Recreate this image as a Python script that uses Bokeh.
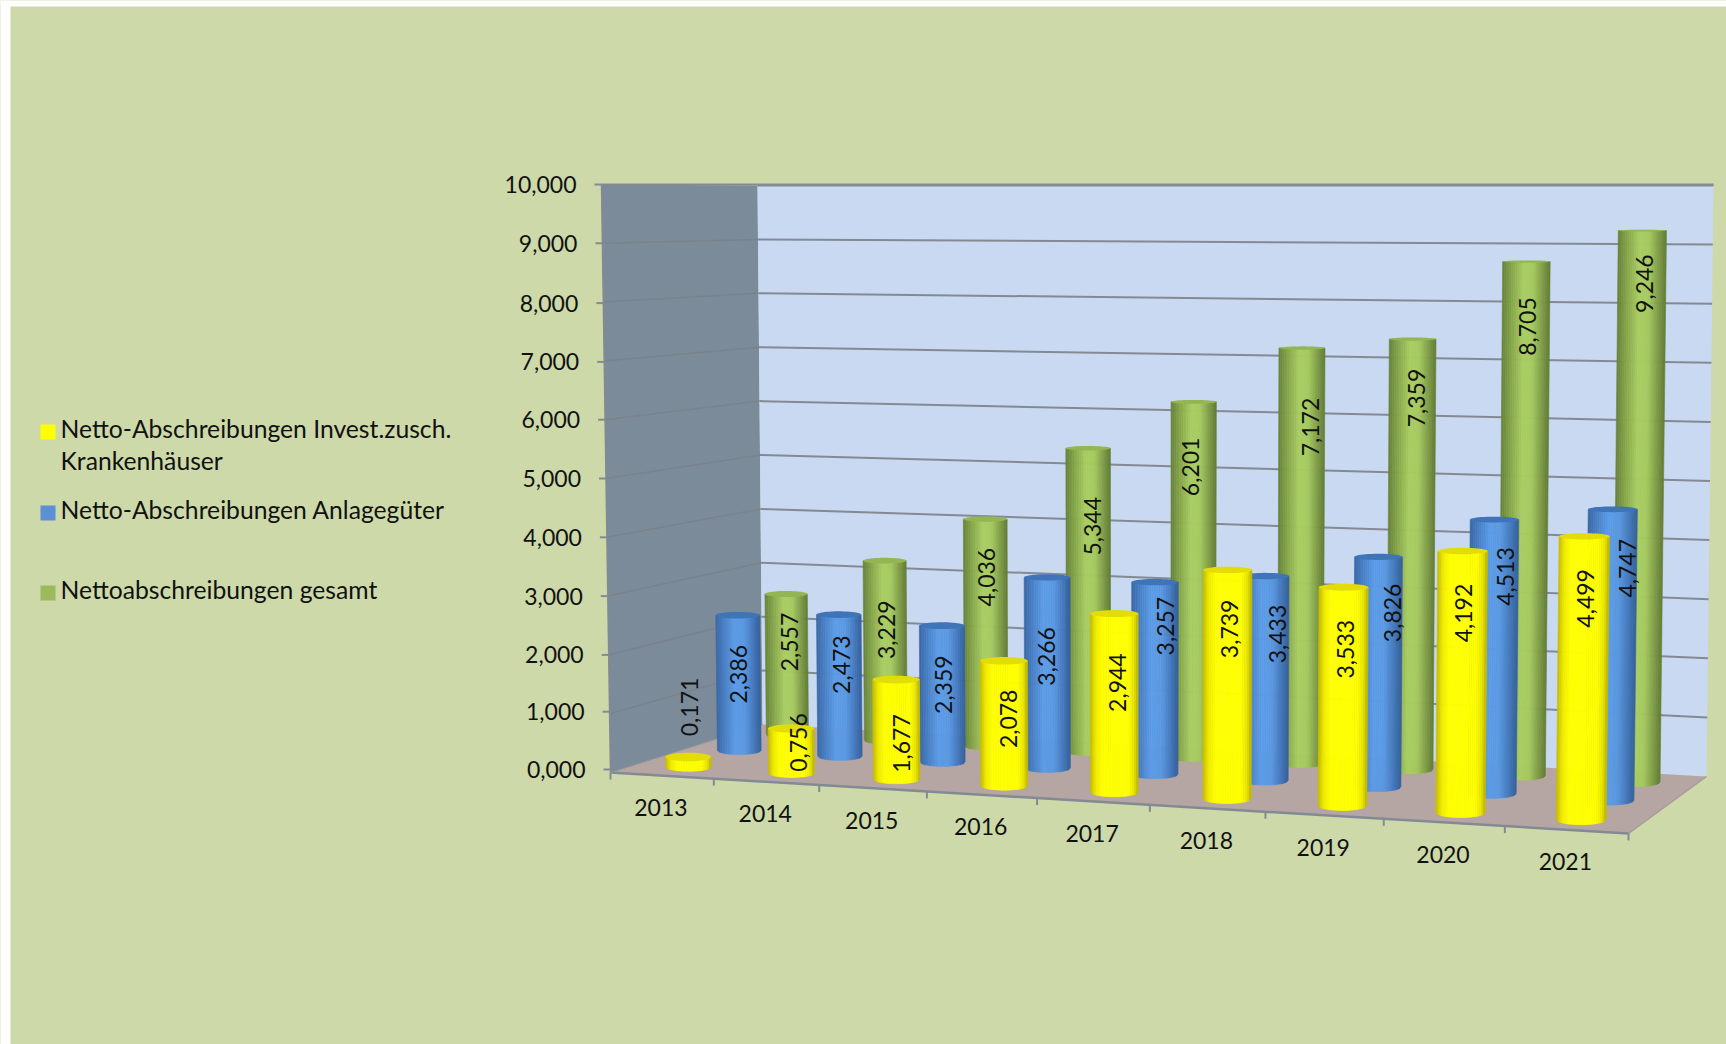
import math
import numpy as np
from bokeh.plotting import figure
from bokeh.models import Range1d
from bokeh.core.properties import value
from bokeh.embed import file_html
from bokeh.resources import INLINE

# ---- data ----
years = ["2013", "2014", "2015", "2016", "2017", "2018", "2019", "2020", "2021"]
invest = [0.171, 0.756, 1.677, 2.078, 2.944, 3.739, 3.533, 4.192, 4.499]
anlage = [2.386, 2.473, 2.359, 3.266, 3.257, 3.433, 3.826, 4.513, 4.747]
gesamt = [2.557, 3.229, 4.036, 5.344, 6.201, 7.172, 7.359, 8.705, 9.246]
y_ticks = [0, 1, 2, 3, 4, 5, 6, 7, 8, 9, 10]
legend_lines = ["Netto-Abschreibungen Invest.zusch.", "Krankenhäuser",
                "Netto-Abschreibungen Anlagegüter", "Nettoabschreibungen gesamt"]

# ---- layout: label offsets from each bar's top centre (pixels) ----
off_x = {"y": [1, 7, 5, 5, 3, 2, 2, 1, 1],
         "b": [1, 3, 2, -1, 11, 12, 14, 11, 15],
         "g": [3, 2, 1, 4, -3, 9, 4, 1, 2]}
off_y = {"y": [-50, 14, 64, 58, 69, 59, 62, 62, 62],
         "b": [59, 50, 59, 79, 44, 58, 56, 57, 59],
         "g": [48, 69, 58, 78, 65, 79, 59, 65, 53]}
tick_dy = [-3, -2, 0, 0, 0, 0, 0, 1, 1, 0, 0]

BG = "#cdd9a8"
FONT = "Lato"

# ---- projection: (u along years, d depth, level 0..1) -> page pixels ----
def homography(dst):
    src = [(0, 0), (1, 0), (1, 1), (0, 1)]
    A, b = [], []
    for (s, t), (X, Y) in zip(src, dst):
        A.append([s, t, 1, 0, 0, 0, -s * X, -t * X]); b.append(X)
        A.append([0, 0, 0, s, t, 1, -s * Y, -t * Y]); b.append(Y)
    h = np.linalg.solve(np.array(A, float), np.array(b, float))
    return np.append(h, 1).reshape(3, 3)

H_floor = homography([(610, 772), (1628, 833), (1706, 776), (762, 724)])
# corner values: front-left, front-right, back-right, back-left
HEIGHT = (588, 641, 591, 539)
LEAN = (-9, 8, 7, -5)
RADIUS = (23, 25.5, 23.5, 20.5)

def bilinear(c, u, d):
    return (c[0] * (1 - u) * (1 - d) + c[1] * u * (1 - d) + c[2] * u * d + c[3] * (1 - u) * d)

def proj(u, d, lev):
    w = u - 0.005 * math.sin(math.pi * u)
    r = H_floor @ np.array([w, d, 1.0])
    x, y = r[0] / r[2], r[1] / r[2]
    return x + lev * bilinear(LEAN, u, d), y - lev * bilinear(HEIGHT, u, d)

p = figure(width=1726, height=1044, output_backend="svg", toolbar_location=None,
           x_range=Range1d(0, 1726), y_range=Range1d(1044, 0), min_border=0,
           background_fill_color=BG, border_fill_color=BG, outline_line_color=None)
p.xaxis.visible = False
p.yaxis.visible = False
p.grid.visible = False

# white margin of the panel
p.quad(left=[0, 0], right=[10, 1726], top=[0, 0], bottom=[1044, 6], fill_color="white", line_color=None)

# walls + floor
def poly(pts, color):
    xs, ys = zip(*pts)
    p.patch(list(xs), list(ys), fill_color=color, line_color=None)

poly([proj(0, 0, 0), proj(0, 1, 0), proj(0, 1, 1), proj(0, 0, 1)], "#7b8b99")
poly([proj(0, 1, 0), proj(1, 1, 0), proj(1, 1, 1), proj(0, 1, 1)], "#c9d9f1")
poly([proj(0, 0, 0), proj(1, 0, 0), proj(1, 1, 0), proj(0, 1, 0)], "#b5a5a3")

GRID = "#838a94"
for t, dy in zip(y_ticks, tick_dy):
    lev = t / 10
    a, b, c = proj(0, 0, lev), proj(0, 1, lev), proj(1, 1, lev)
    if 0 < t < 10:
        p.line([a[0], b[0]], [a[1], b[1]], line_color="#78838c", line_width=1.5)
    if t > 0:
        p.line([b[0], c[0]], [b[1], c[1]], line_color=GRID, line_width=2)
    p.line([a[0] - 7, a[0]], [a[1] + dy, a[1] + dy], line_color=GRID, line_width=2)
    p.text([a[0] - 25], [a[1] + dy], text=[f"{t},000"], text_font=value(FONT),
           text_font_size=value("23px"), text_align="right", text_baseline="middle",
           text_color="#111111")

# frame edges
a, b = proj(0, 0, 0), proj(1, 0, 0)
p.line([a[0], b[0]], [a[1], b[1]], line_color=GRID, line_width=2.5)
a, b = proj(0, 0, 0), proj(0, 0, 1)
p.line([a[0], b[0]], [a[1], b[1]], line_color=GRID, line_width=1.5)
a, b = proj(0, 0, 1), proj(1, 1, 1)
p.line([a[0], b[0]], [a[1], a[1]], line_color=GRID, line_width=2)
a, b = proj(1, 0, 0), proj(1, 1, 0)
p.line([a[0], b[0]], [a[1], b[1]], line_color="#a59c9c", line_width=1.5)
a, b = proj(0, 0, 0), proj(0, 1, 0)
p.line([a[0], b[0]], [a[1], b[1]], line_color="#8f9298", line_width=1)

# category ticks + labels
n = len(years)
for i in range(n + 1):
    a = proj(i / n, 0, 0)
    p.line([a[0], a[0]], [a[1], a[1] + 7], line_color=GRID, line_width=2)
for i, y in enumerate(years):
    a = proj((i + 0.5) / n, 0, 0)
    p.text([a[0] - 1], [a[1] + 32], text=[y], text_font=value(FONT),
           text_font_size=value("23px"), text_align="center", text_baseline="middle",
           text_color="#111111")

# cylinders
STYLES = {
    "y": dict(stops=[(0, "#c2b800"), (0.12, "#f2ec00"), (0.25, "#ffff00"), (0.8, "#ffff00"), (0.92, "#eae400"), (1, "#b8b000")],
              cap="#e4dc08"),
    "b": dict(stops=[(0, "#3a67a3"), (0.2, "#4a82c8"), (0.42, "#5c9ce8"), (0.65, "#5a98e2"), (0.85, "#4478bd"), (1, "#36609a")],
              cap="#3f74b8"),
    "g": dict(stops=[(0, "#67813a"), (0.2, "#86a649"), (0.45, "#a9ce62"), (0.65, "#a6ca5f"), (0.85, "#7f9c46"), (1, "#627c36")],
              cap="#93b553"),
}

def hex2rgb(h):
    return tuple(int(h[i:i + 2], 16) for i in (1, 3, 5))

def shade(stops, t):
    for (t0, c0), (t1, c1) in zip(stops, stops[1:]):
        if t <= t1:
            f = (t - t0) / (t1 - t0) if t1 > t0 else 0
            a0, a1 = hex2rgb(c0), hex2rgb(c1)
            return "#%02x%02x%02x" % tuple(round(x + (z - x) * f) for x, z in zip(a0, a1))
    return stops[-1][1]

RD = 0.085
STRIPS = 26

def cylinder(i, d, val, key):
    u = (i + 0.5) / n
    lev = val / 10
    st = STYLES[key]
    bc = proj(u, d, 0)
    tc = proj(u, d, lev)
    rxb = bilinear(RADIUS, u, d)
    rxt = rxb * (1 + 0.02 * lev)
    ryb = abs(proj(u, d + RD, 0)[1] - proj(u, d - RD, 0)[1]) / 2
    ryt = ryb * (1 - 0.85 * lev)
    xs, ys, cols = [], [], []
    for k in range(STRIPS):
        s0, s1 = -1 + 2 * k / STRIPS, -1 + 2 * (k + 1) / STRIPS
        arc = lambda s: math.sqrt(max(0.0, 1 - s * s))
        xs.append([bc[0] + rxb * s0, bc[0] + rxb * s1, tc[0] + rxt * s1, tc[0] + rxt * s0])
        ys.append([bc[1] + ryb * arc(s0), bc[1] + ryb * arc(s1), tc[1], tc[1]])
        cols.append(shade(st["stops"], (k + 0.5) / STRIPS))
    p.patches(xs, ys, fill_color=cols, line_color=cols, line_width=0.6)
    th = np.linspace(0, 2 * np.pi, 48)
    p.patch(tc[0] + rxt * np.cos(th), tc[1] + ryt * np.sin(th), fill_color=st["cap"], line_color=None)
    return tc

series = [("g", 5 / 6, gesamt), ("b", 1 / 2, anlage), ("y", 1 / 6, invest)]
labels = []
for key, d, vals in series:
    for i, v in enumerate(vals):
        tc = cylinder(i, d, v, key)
        labels.append((tc[0] + off_x[key][i], tc[1] + off_y[key][i], f"{v:.3f}".replace(".", ",")))

for x, y, t in labels:
    p.text([x], [y], text=[t], angle=math.pi / 2, text_font=value(FONT),
           text_font_size=value("23px"), text_align="center", text_baseline="middle",
           text_color="#111111")

# legend
LEG = [("#ffff00", 431.5, [(legend_lines[0], 428), (legend_lines[1], 460)]),
       ("#5b8fd6", 512.5, [(legend_lines[2], 509)]),
       ("#9cba5c", 592.5, [(legend_lines[3], 589)])]
for col, yc, rows in LEG:
    p.quad(left=[40], right=[55], top=[yc - 7.5], bottom=[yc + 7.5], fill_color=col, line_color=None)
    for t, y in rows:
        p.text([60], [y], text=[t], text_font=value(FONT), text_font_size=value("24.7px"),
               text_align="left", text_baseline="middle", text_color="#111111")

open("out.html", "w").write(file_html(p, INLINE))
